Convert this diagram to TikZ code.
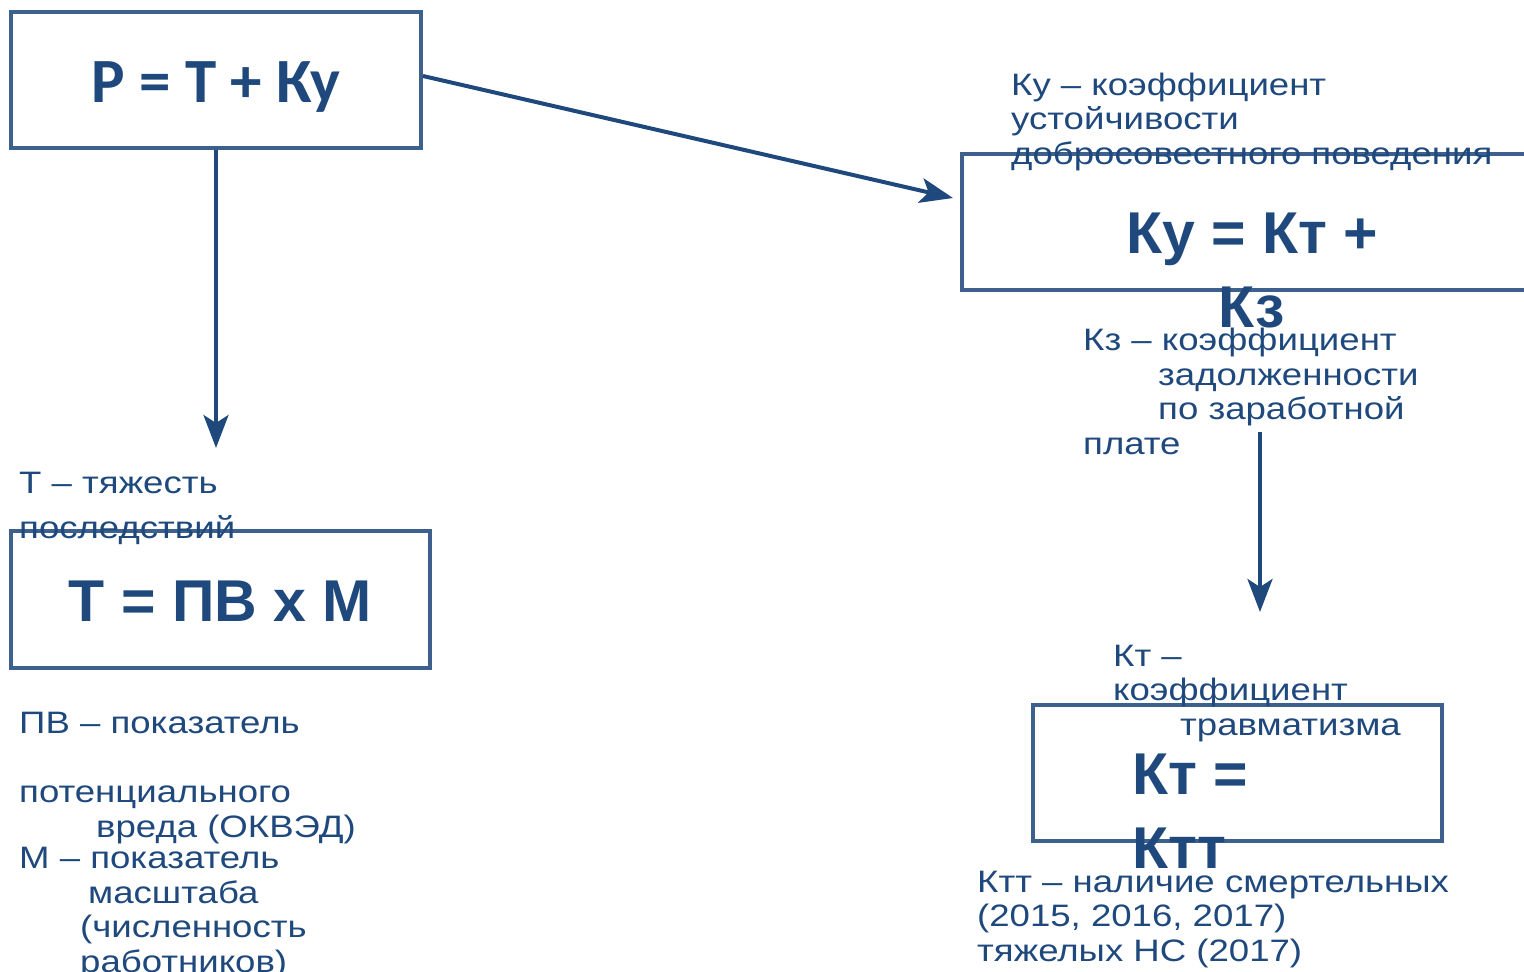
\documentclass[tikz,border=0pt]{standalone}
\usepackage{fontspec}
\setmainfont{Liberation Sans}
\newfontfamily\calfont{Carlito}
\newfontfamily\notefont[FakeStretch=1.18]{Liberation Sans}
\usetikzlibrary{arrows.meta}
\definecolor{ink}{RGB}{31,73,125}
\definecolor{frame}{RGB}{62,96,140}
\tikzset{
	formbox/.style={draw=frame, line width=4pt, inner sep=0pt, text=ink, text height=44pt, text depth=0pt, font=\fontsize{59}{74}\selectfont\bfseries},
	formula/.style={text=ink, inner sep=0pt, font=\fontsize{59}{74}\selectfont\bfseries},
	note/.style={text=ink, inner sep=0pt, align=left, anchor=base west, font=\notefont\fontsize{31}{34.5}\selectfont},
	arrowline/.style={draw=ink, line width=4pt, -{Stealth[length=33pt, width=25pt, inset=8pt]}},
}

\begin{document}
\begin{tikzpicture}[x=1pt, y=-1pt]
	\useasboundingbox (0,0) rectangle (1524,972);
	\clip (0,0) rectangle (1524,972);

	\node[formbox, minimum width=410pt, minimum height=136pt, font=\fontsize{63}{74}\selectfont\calfont\bfseries] (pbox) at (216,80) {Р = Т + Ку};
	\node[formbox, minimum width=580pt, minimum height=136pt] (kybox) at (1252,222) {};
	\node[formbox, minimum width=419pt, minimum height=137pt] (tbox) at (220.5,599.5) {Т = ПВ х М};
	\node[formbox, minimum width=409pt, minimum height=136pt] (ktbox) at (1237.5,773) {};

	\node[formula, align=center, anchor=base] (kyform) at (1252,327) {Ку = Кт +\\Кз};
	\node[formula, align=left, anchor=base west] (ktform) at (1132,868) {Кт =\\Ктт};

	\node[note] (kytext) at (1011,164) {Ку – коэффициент\\устойчивости\\добросовестного поведения};
	\node[note] (kztext) at (1083,454) {Кз – коэффициент\\\hspace*{75pt}задолженности\\\hspace*{75pt}по заработной\\плате};
	\node[note] (ttext) at (19,538) {Т – тяжесть\\[10pt]последствий};
	\node[note] (pvtext) at (19,837) {ПВ – показатель\\[35pt]потенциального\\\hspace*{77pt}вреда (ОКВЭД)};
	\node[note] (mtext) at (19,972) {М – показатель\\\hspace*{69pt}масштаба\\\hspace*{61pt}(численность\\\hspace*{61pt}работников)};
	\node[note] (kttext) at (1113,735) {Кт –\\коэффициент\\\hspace*{67pt}травматизма};
	\node[note] (ktttext) at (977,961) {Ктт – наличие смертельных\\(2015, 2016, 2017)\\тяжелых НС (2017)};

	\coordinate (kyin) at (953,198);
	\coordinate (tin) at (216,448);
	\coordinate (ktout) at (1260,432);
	\coordinate (ktin) at (1260,612);

	\draw[arrowline] ([yshift=4pt]pbox.east) -- (kyin);
	\draw[arrowline] (pbox.south) -- (tin);
	\draw[arrowline] (ktout) -- (ktin);
\end{tikzpicture}
\end{document}
